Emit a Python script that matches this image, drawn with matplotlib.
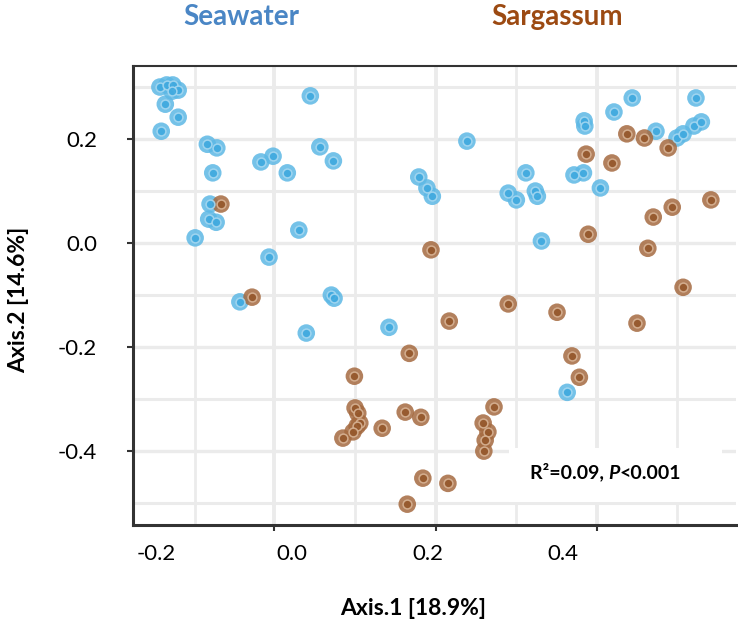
import matplotlib
matplotlib.use("Agg")
import matplotlib.pyplot as plt
from matplotlib.patches import Rectangle

plt.rcParams['font.family'] = ['Lato', 'DejaVu Sans']

# PCoA coordinates (Axis.1, Axis.2)
sea_x = [-0.195, -0.185, -0.176, -0.168, -0.177, -0.187, -0.168, -0.193, 0.027, -0.125,
         -0.111, 0.041, 0.061, -0.046, -0.028, -0.117, -0.007, -0.121, -0.123, -0.112,
         -0.143, 0.010, -0.034, -0.077, 0.021, 0.058, 0.062, 0.143, 0.187, 0.199,
         0.207, 0.258, 0.319, 0.331, 0.345, 0.359, 0.362, 0.368, 0.416, 0.430,
         0.431, 0.432, 0.455, 0.475, 0.502, 0.537, 0.568, 0.577, 0.593, 0.604,
         0.596, 0.406]
sea_y = [0.300, 0.304, 0.304, 0.294, 0.292, 0.267, 0.242, 0.215, 0.283, 0.190,
         0.183, 0.185, 0.158, 0.156, 0.167, 0.135, 0.135, 0.075, 0.046, 0.040,
         0.010, 0.025, -0.027, -0.113, -0.173, -0.100, -0.106, -0.162, 0.127, 0.106,
         0.090, 0.196, 0.096, 0.083, 0.135, 0.100, 0.090, 0.004, 0.131, 0.135,
         0.235, 0.225, 0.106, 0.252, 0.279, 0.215, 0.202, 0.210, 0.225, 0.233,
         0.279, -0.287]

sarg_x = [-0.105, -0.059, 0.205, 0.232, 0.173, 0.092, 0.093, 0.097, 0.100, 0.096,
          0.090, 0.075, 0.133, 0.167, 0.190, 0.298, 0.282, 0.289, 0.285, 0.283,
          0.193, 0.230, 0.170, 0.319, 0.391, 0.509, 0.413, 0.424, 0.437, 0.434,
          0.472, 0.494, 0.520, 0.555, 0.561, 0.533, 0.618, 0.525, 0.577]
sarg_y = [0.075, -0.104, -0.013, -0.150, -0.212, -0.256, -0.317, -0.327, -0.346, -0.352,
          -0.363, -0.375, -0.356, -0.325, -0.335, -0.315, -0.346, -0.363, -0.379, -0.400,
          -0.452, -0.462, -0.502, -0.117, -0.133, -0.154, -0.217, -0.258, 0.017, 0.171,
          0.154, 0.210, 0.202, 0.183, 0.069, 0.050, 0.083, -0.010, -0.085]

x_labels = ["-0.2", "0.0", "0.2", "0.4"]
x_label_pos = [-0.2, 0.0, 0.2, 0.4]
y_ticks = [-0.4, -0.2, 0.0, 0.2]
y_labels = ["-0.4", "-0.2", "0.0", "0.2"]

# grid lines sit where the original panel had them
grid_x_major = [-0.0266, 0.2125, 0.450]
grid_x_minor = [-0.143, 0.093, 0.331, 0.568]
grid_y_minor = [-0.5, -0.3, -0.1, 0.1, 0.3]

blue, blue_ring, blue_dot = '#5DB8E5', '#A6D8F1', '#3FA9DF'
brown, brown_ring, brown_dot = '#A56A40', '#D8B496', '#95572B'

fig = plt.figure(figsize=(7.38, 6.24), dpi=100)
ax = fig.add_axes([0.1802, 0.1587, 0.817, 0.736])

gcol = '#EBEBEB'
for gx in grid_x_major:
    ax.axvline(gx, color=gcol, lw=2.8, zorder=0)
for gx in grid_x_minor:
    ax.axvline(gx, color=gcol, lw=2.0, zorder=0)
for gy in y_ticks:
    ax.axhline(gy, color=gcol, lw=2.4, zorder=0)
for gy in grid_y_minor:
    ax.axhline(gy, color=gcol, lw=2.2, zorder=0)

# points: soft outer disc + ringed centre
for xs, ys, c, ring, dot in [(sea_x, sea_y, blue, blue_ring, blue_dot),
                             (sarg_x, sarg_y, brown, brown_ring, brown_dot)]:
    ax.scatter(xs, ys, s=160, color=c, alpha=0.85, edgecolors='none', zorder=3)
    ax.scatter(xs, ys, s=40, facecolor=dot, edgecolors=ring, linewidths=1.1,
               alpha=0.9, zorder=4)

ax.set_xlim(-0.2347, 0.655)
ax.set_ylim(-0.542, 0.341)

ax.set_xticks(grid_x_major)
ax.set_xticklabels([])
ax.set_xticks(x_label_pos, minor=True)
ax.set_xticklabels(x_labels, minor=True)
ax.tick_params(axis='x', which='major', length=4, width=1.5, color='#333333')
ax.tick_params(axis='x', which='minor', length=0, pad=14, labelsize=16)

ax.set_yticks(y_ticks)
ax.set_yticklabels(y_labels)
ax.tick_params(axis='y', length=4, width=1.5, color='#333333', pad=22, labelsize=16)

for side in ['left', 'bottom']:
    ax.spines[side].set_linewidth(2.2)
    ax.spines[side].set_color('#333333')
ax.spines['top'].set_linewidth(1.5)
ax.spines['top'].set_color('#333333')
ax.spines['right'].set_visible(False)

ax.set_xlabel("Axis.1 [18.9%]", fontsize=16.5, fontweight='bold')
ax.xaxis.set_label_coords(0.464, -0.158)
ax.set_ylabel("Axis.2 [14.6%]", fontsize=16.5, fontweight='bold')
ax.yaxis.set_label_coords(-0.173, 0.49)

# white box with the statistics
ax.add_patch(Rectangle((0.6235, 0.050), 0.353, 0.118, transform=ax.transAxes,
                       facecolor='white', edgecolor='none', zorder=1))
t1 = ax.text(0.658, 0.115, "R²=0.09, ", transform=ax.transAxes, fontsize=14,
             fontweight='bold', va='center', ha='left', zorder=5)
t2 = ax.annotate("P", xy=(1, 0), xycoords=t1, va='bottom', ha='left', fontsize=14,
                 fontweight='bold', style='italic', zorder=5)
ax.annotate("<0.001", xy=(1, 0), xycoords=t2, va='bottom', ha='left', fontsize=14,
            fontweight='bold', zorder=5)

fig.text(241 / 738, 1 - 17 / 624, "Seawater", color='#4A86C5', fontsize=20,
         fontweight='bold', ha='center', va='center')
fig.text(557 / 738, 1 - 17 / 624, "Sargassum", color='#9C4A12', fontsize=20,
         fontweight='bold', ha='center', va='center')

fig.savefig("out.png", dpi=100)
